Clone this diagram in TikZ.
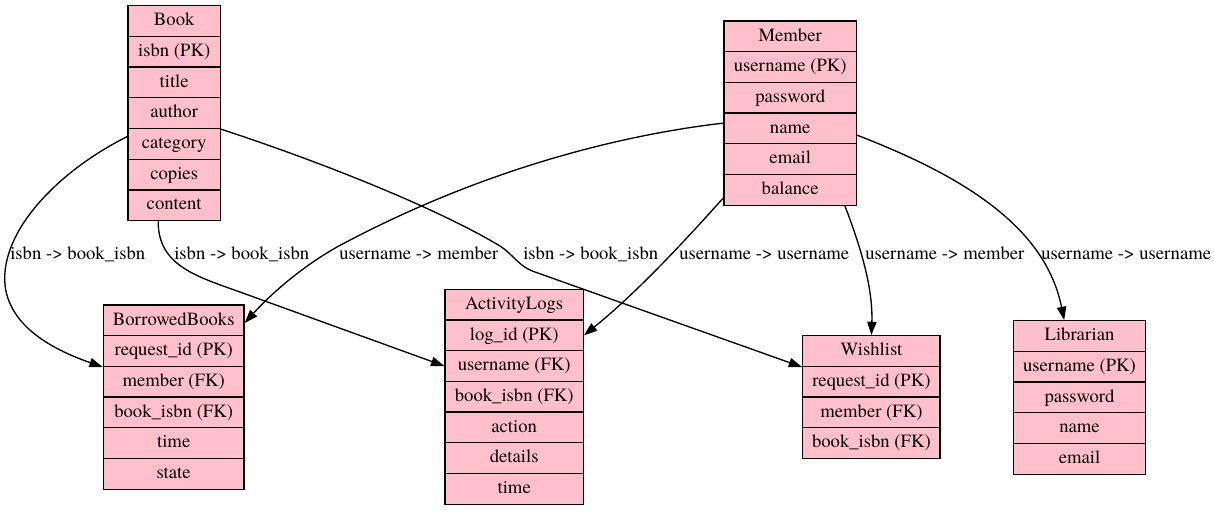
\documentclass[tikz,border=0pt]{standalone}
\usepackage{fontspec}
\setmainfont{texgyretermes}[Extension=.otf, UprightFont=*-regular, BoldFont=*-bold, ItalicFont=*-italic, BoldItalicFont=*-bolditalic]
\usetikzlibrary{arrows.meta}
\definecolor{erpink}{HTML}{FFC0CB}
\tikzset{
  cell/.style={draw=black, fill=erpink, line width=1pt, inner sep=0pt,
    minimum height=23pt, text height=10pt, text depth=3pt,
    font=\rmfamily\fontsize{14}{16}\selectfont},
  lbl/.style={inner sep=0pt, anchor=base west, font=\rmfamily\fontsize{14}{16}\selectfont},
  conn/.style={draw=black, line width=1pt, -{Triangle[length=10pt,width=7pt]}}
}
\newcommand{\ertable}[5]{%
  \foreach \t [count=\i] in {#5} {
    \node[cell, minimum width=#3] (#1-\i) at (#2, {#4+(\i-0.5)*30.7}) {\t};
  }}
\begin{document}
\begin{tikzpicture}[x=0.75pt,y=-0.75pt]
\fill[white] (0,0) rectangle (1214,511);
\useasboundingbox (0,0) rectangle (1214,511);

\ertable{book}{174.2}{69.2pt}{5.7}{Book,isbn (PK),title,author,category,copies,content}
\ertable{mem}{790.2}{99.2pt}{21}{Member,username (PK),password,name,email,balance}
\ertable{bb}{173.7}{105.5pt}{305}{BorrowedBooks,request\_id (PK),member (FK),book\_isbn (FK),time,state}
\ertable{al}{514.2}{103.7pt}{289.3}{ActivityLogs,log\_id (PK),username (FK),book\_isbn (FK),action,details,time}
\ertable{wl}{871.4}{103pt}{335.7}{Wishlist,request\_id (PK),member (FK),book\_isbn (FK)}
\ertable{lb}{1079.5}{99.3pt}{320.7}{Librarian,username (PK),password,name,email}

% labels
\node[lbl] (l1) at (10,259.5) {isbn -> book\_isbn};
\node[lbl] (l2) at (174,259.5) {isbn -> book\_isbn};
\node[lbl] (l3) at (339,259.5) {username -> member};
\node[lbl] (l4) at (523,259.5) {isbn -> book\_isbn};
\node[lbl] (l5) at (679,259.5) {username -> username};
\node[lbl] (l6) at (865,259.5) {username -> member};
\node[lbl] (l7) at (1041,259.5) {username -> username};

% connectors
\draw[conn] ([yshift=5.5pt]book-5.west) .. controls (60,170) and (0,230) .. (5,285)
   .. controls (10,330) and (60,352) .. (bb-2.south west);
\draw[conn] ([xshift=-12pt]book-7.south) .. controls (158,265) and (195,276) .. (240,292)
   -- (al-3.west);
\draw[conn] (book-4.south east) .. controls (330,165) and (440,210) .. (500,246)
   .. controls (515,256) and (518,266) .. (535,272) -- (wl-1.south west);
\draw[conn] ([yshift=-8pt]mem-4.north west) .. controls (620,135) and (480,170) .. (337,247)
   .. controls (300,268) and (270,295) .. ([yshift=-2pt]bb-1.east);
\draw[conn] ([yshift=6pt]mem-6.south west) .. controls (690,235) and (640,290) .. (al-2.east);
\draw[conn] ([xshift=41pt]mem-6.south) .. controls (862,250) and (873,290) .. (wl-1.north);
\draw[conn] ([yshift=-5pt]mem-4.east) .. controls (960,175) and (1045,225) .. ([xshift=-11.5pt]lb-1.north);
\end{tikzpicture}
\end{document}
